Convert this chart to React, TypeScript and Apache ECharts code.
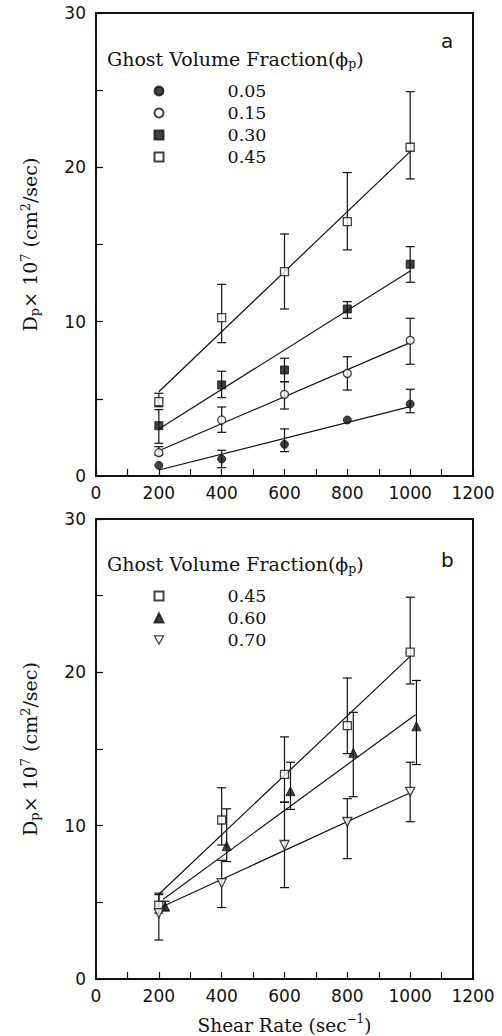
import React, { useEffect, useRef } from "react";
import * as echarts from "echarts";

// ---------- data ----------
const shearRates = [200, 400, 600, 800, 1000];

// Panel a
const a005 = [0.69, 1.1, 2.05, 3.63, 4.66];
const a005Lo = [null, 0.54, 1.58, null, 4.1];
const a005Hi = [null, 1.67, 3.05, null, 5.62];
const a015 = [1.51, 3.63, 5.29, 6.65, 8.79];
const a015Lo = [1.36, 2.83, 4.34, 5.57, 7.24];
const a015Hi = [1.9, 4.47, 6.11, 7.73, 10.22];
const a030 = [3.26, 5.9, 6.87, 10.82, 13.72];
const a030Lo = [2.12, 5.08, 6.11, 10.22, 12.55];
const a030Hi = [4.3, 6.79, 7.63, 11.3, 14.86];
const a045 = [4.82, 10.26, 13.24, 16.48, 21.3];
const a045Lo = [4.49, 8.64, 10.82, 14.65, 19.25];
const a045Hi = [5.36, 12.42, 15.68, 19.66, 24.9];
// fitted lines: [x, y] end points
const fitA005 = [[200, 0.39], [1000, 4.49]];
const fitA015 = [[200, 1.64], [1000, 8.64]];
const fitA030 = [[200, 3.05], [1000, 13.29]];
const fitA045 = [[200, 5.46], [1000, 21.02]];

// Panel b
const b045X = [200, 400, 600, 800, 1000];
const b045 = [4.81, 10.37, 13.34, 16.53, 21.32];
const b045Lo = [4.3, 8.74, 11.54, 14.7, 19.24];
const b045Hi = [5.6, 12.47, 15.79, 19.63, 24.9];
const b060X = [220, 416, 619, 819, 1020];
const b060 = [4.73, 8.67, 12.25, 14.75, 16.48];
const b060Lo = [4.45, 7.66, 11.06, 11.89, 13.99];
const b060Hi = [5.07, 11.1, 14.14, 17.39, 19.47];
const b070X = [200, 400, 600, 800, 1000];
const b070 = [4.29, 6.25, 8.74, 10.24, 12.21];
const b070Lo = [2.54, 4.66, 5.96, 7.85, 10.26];
const b070Hi = [5.5, 7.74, 11.52, 11.76, 14.14];
const fitB045 = [[200, 5.53], [1000, 21.04]];
const fitB060 = [[214, 5.2], [1017, 17.24]];
const fitB070 = [[205, 4.66], [1000, 12.15]];

const xTicks = [0, 200, 400, 600, 800, 1000, 1200];
const yTicks = [0, 10, 20, 30];

// ---------- helpers ----------
const INK = "#111";
const SERIF = "DejaVu Serif";
const SANS = "DejaVu Sans";

const pts = (xs: number[], ys: number[]) => xs.map((x, i) => [x, ys[i]]);
const bars = (xs: number[], lo: (number | null)[], hi: (number | null)[]) =>
  xs
    .map((x, i) => (lo[i] == null || hi[i] == null ? null : [x, lo[i], hi[i]]))
    .filter((d) => d !== null);

const errRender = (params: any, api: any) => {
  const x = api.value(0);
  const top = api.coord([x, api.value(2)]);
  const bot = api.coord([x, api.value(1)]);
  const hw = 4.5;
  const st = { stroke: INK, lineWidth: 1.2 };
  return {
    type: "group",
    children: [
      { type: "line", shape: { x1: top[0], y1: top[1], x2: bot[0], y2: bot[1] }, style: st },
      { type: "line", shape: { x1: top[0] - hw, y1: top[1], x2: top[0] + hw, y2: top[1] }, style: st },
      { type: "line", shape: { x1: bot[0] - hw, y1: bot[1], x2: bot[0] + hw, y2: bot[1] }, style: st },
    ],
  };
};

const errSeries = (idx: number, data: any[]) => ({
  type: "custom",
  xAxisIndex: idx,
  yAxisIndex: idx,
  renderItem: errRender,
  data,
  encode: { x: 0, y: [1, 2] },
  z: 2,
  silent: true,
});

const fitSeries = (idx: number, data: number[][]) => ({
  type: "line",
  xAxisIndex: idx,
  yAxisIndex: idx,
  data,
  symbol: "none",
  lineStyle: { color: INK, width: 1.2 },
  z: 3,
  silent: true,
});

const filled = { color: INK, borderColor: INK, borderWidth: 1 };
const open = { color: "#fff", borderColor: INK, borderWidth: 1.3 };

const scatter = (
  idx: number,
  name: string,
  data: number[][],
  symbol: string,
  size: number,
  style: any,
  rotate = 0
) => ({
  type: "scatter",
  name,
  xAxisIndex: idx,
  yAxisIndex: idx,
  data,
  symbol,
  symbolSize: size,
  symbolRotate: rotate,
  itemStyle: style,
  z: 5,
  silent: true,
});

const xAxis = (idx: number, withName: boolean) => ({
  type: "value",
  gridIndex: idx,
  min: xTicks[0],
  max: xTicks[xTicks.length - 1],
  interval: 200,
  axisLine: { show: true, onZero: false, lineStyle: { color: INK, width: 2 } },
  axisTick: { show: true, inside: true, length: 7, lineStyle: { color: INK, width: 1.2 } },
  minorTick: { show: true, splitNumber: 2, length: 7, lineStyle: { color: INK, width: 1.2 } },
  splitLine: { show: false },
  axisLabel: {
    color: INK,
    fontFamily: SANS,
    fontSize: 17,
    margin: 8,
    formatter: (v: number) => (xTicks.includes(v) ? String(v) : ""),
  },
  ...(withName
    ? {
        name: "{t|Shear Rate (sec}{sup|−1}{t|)}",
        nameLocation: "middle",
        nameGap: 34,
        nameTextStyle: {
          rich: {
            t: { fontFamily: SERIF, fontSize: 18.5, color: INK, lineHeight: 22, verticalAlign: "bottom" },
            sup: { fontFamily: SERIF, fontSize: 12, color: INK, lineHeight: 22, verticalAlign: "top", padding: [0, 0, 7, 0] },
          },
        },
      }
    : {}),
});

const yName = "{t|D}{sub|p}{t|× 10}{sup|7}{t| (cm}{sup|2}{t|/sec)}";
const yRich = {
  t: { fontFamily: SERIF, fontSize: 19, color: INK },
  sub: { fontFamily: SERIF, fontSize: 13, color: INK, padding: [9, 0, 0, 0] },
  sup: { fontFamily: SERIF, fontSize: 13, color: INK, padding: [0, 0, 9, 0] },
};

const yAxis = (idx: number) => ({
  type: "value",
  gridIndex: idx,
  min: 0,
  max: 30,
  interval: 10,
  axisLine: { show: true, lineStyle: { color: INK, width: 2 } },
  axisTick: { show: true, inside: true, length: 7, lineStyle: { color: INK, width: 1.2 } },
  minorTick: { show: true, splitNumber: 2, length: 7, lineStyle: { color: INK, width: 1.2 } },
  splitLine: { show: false },
  axisLabel: {
    color: INK,
    fontFamily: SANS,
    fontSize: 17,
    margin: 10,
    formatter: (v: number) => (yTicks.includes(v) ? String(v) : ""),
  },
  name: yName,
  nameLocation: "middle",
  nameRotate: 90,
  nameGap: 55,
  nameTextStyle: { rich: yRich },
});

const legendTitle = "{t|Ghost Volume Fraction(}{phi|ϕ}{sub|p}{t|)}";
const legendRich = {
  t: { fontFamily: SERIF, fontSize: 19, fontWeight: "normal", color: INK },
  phi: { fontFamily: SERIF, fontSize: 19, fontWeight: "normal", color: INK },
  sub: { fontFamily: SERIF, fontSize: 12.5, fontWeight: "normal", color: INK, padding: [9, 0, 0, 0] },
};

const legendBase = {
  orient: "vertical",
  left: 153.5,
  itemWidth: 9,
  itemHeight: 9,
  itemGap: 4,
  padding: 0,
  selectedMode: false,
  formatter: (n: string) => n.slice(2),
  textStyle: { fontFamily: SERIF, fontSize: 17.5, color: INK, lineHeight: 17, padding: [0, 0, 0, 59] },
};

export default function App() {
  const ref = useRef<HTMLDivElement>(null);
  useEffect(() => {
    if (!ref.current) return;
    const chart = echarts.init(ref.current, null, { renderer: "svg" });
    chart.setOption({
      animation: false,
      backgroundColor: "#fff",
      grid: [
        { left: 96, top: 13, width: 377, height: 463, show: true, borderColor: INK, borderWidth: 2, backgroundColor: "transparent" },
        { left: 96, top: 519, width: 377, height: 461, show: true, borderColor: INK, borderWidth: 2, backgroundColor: "transparent" },
      ],
      xAxis: [xAxis(0, false), xAxis(1, true)],
      yAxis: [yAxis(0), yAxis(1)],
      title: [
        { text: legendTitle, left: 107, top: 48, padding: 0, textStyle: { fontWeight: "normal", rich: legendRich } },
        { text: legendTitle, left: 107, top: 553, padding: 0, textStyle: { fontWeight: "normal", rich: legendRich } },
        { text: "a", left: 441, top: 31, padding: 0, textStyle: { fontFamily: SANS, fontSize: 20, fontWeight: "normal", color: INK } },
        { text: "b", left: 441, top: 550, padding: 0, textStyle: { fontFamily: SANS, fontSize: 20, fontWeight: "normal", color: INK } },
      ],
      legend: [
        { ...legendBase, top: 82, data: ["a 0.05", "a 0.15", "a 0.30", "a 0.45"] },
        {
          ...legendBase,
          top: 587,
          data: [
            "b 0.45",
            "b 0.60",
            { name: "b 0.70", icon: "path://M0,0L10,0L5,9Z", itemStyle: { color: "#fff", borderColor: INK, borderWidth: 1.3 } },
          ],
        },
      ],
      series: [
        // panel a
        errSeries(0, bars(shearRates, a005Lo, a005Hi)),
        errSeries(0, bars(shearRates, a015Lo, a015Hi)),
        errSeries(0, bars(shearRates, a030Lo, a030Hi)),
        errSeries(0, bars(shearRates, a045Lo, a045Hi)),
        fitSeries(0, fitA005),
        fitSeries(0, fitA015),
        fitSeries(0, fitA030),
        fitSeries(0, fitA045),
        scatter(0, "a 0.05", pts(shearRates, a005), "circle", 8, filled),
        scatter(0, "a 0.15", pts(shearRates, a015), "circle", 8, open),
        scatter(0, "a 0.30", pts(shearRates, a030), "rect", 8, filled),
        scatter(0, "a 0.45", pts(shearRates, a045), "rect", 8, open),
        // panel b
        errSeries(1, bars(b045X, b045Lo, b045Hi)),
        errSeries(1, bars(b060X, b060Lo, b060Hi)),
        errSeries(1, bars(b070X, b070Lo, b070Hi)),
        fitSeries(1, fitB045),
        fitSeries(1, fitB060),
        fitSeries(1, fitB070),
        scatter(1, "b 0.45", pts(b045X, b045), "rect", 8, open),
        scatter(1, "b 0.60", pts(b060X, b060), "triangle", 9, filled),
        scatter(1, "b 0.70", pts(b070X, b070), "triangle", 9, open, 180),
      ],
    });
    return () => chart.dispose();
  }, []);
  return (
    <div
      ref={ref}
      style={{ position: "fixed", left: 0, top: 0, width: 502, height: 1036, background: "#fff" }}
    />
  );
}
